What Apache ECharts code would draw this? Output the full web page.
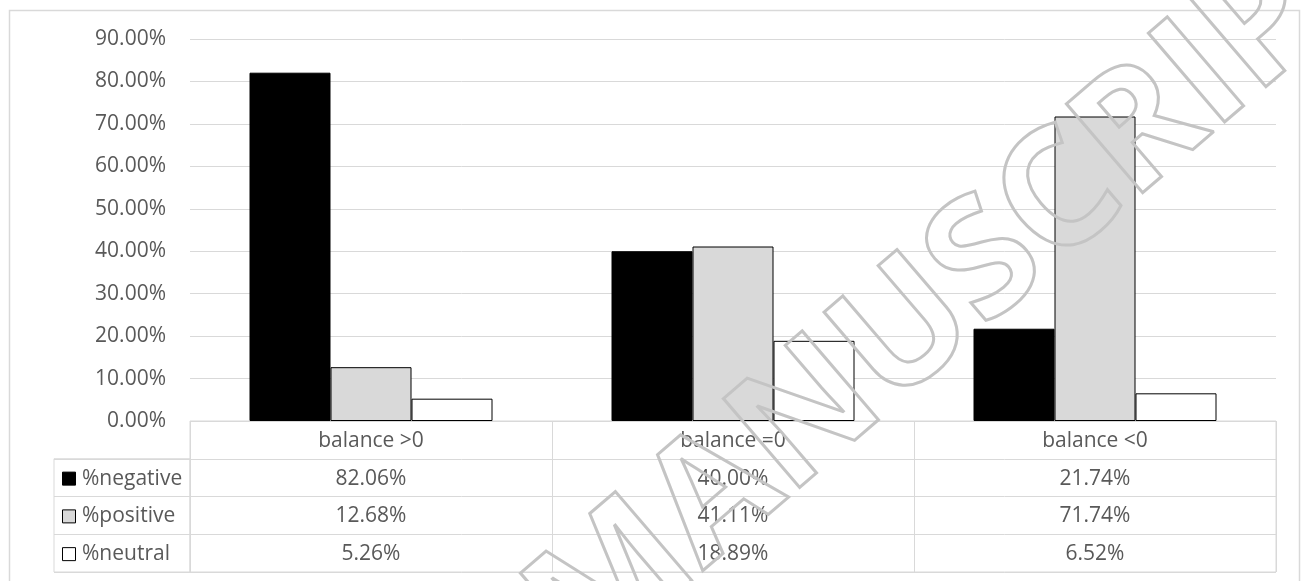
<!DOCTYPE html>
<html>
<head>
<meta charset="utf-8">
<script src="https://cdn.jsdelivr.net/npm/echarts@6/dist/echarts.min.js"></script>
<style>
  html, body { margin: 0; padding: 0; background: #fff; }
  #chart { width: 1306px; height: 581px; }
</style>
</head>
<body>
<div id="chart"></div>
<script>
// data (values also printed in its data table)
const categories = ["balance >0", "balance =0", "balance <0"];
const seriesNames = ["%negative", "%positive", "%neutral"];
const negative = [82.06, 40.0, 21.74];
const positive = [12.68, 41.11, 71.74];
const neutral = [5.26, 18.89, 6.52];
const tableRows = ["header", "%negative", "%positive", "%neutral"];

const values = [negative, positive, neutral];
const fills = ["#000000", "#d9d9d9", "#ffffff"];
const textColor = "#595959";
const lineColor = "#d9d9d9";
const font = '"Open Sans", "Noto Sans", sans-serif';
const fontSize = 21;

// layout of the plot + data table below it
const plotTop = 39, axisY = 421, tableBottom = 572;
const rowH = (tableBottom - axisY) / tableRows.length;

const chart = echarts.init(document.getElementById("chart"));

// cells of the data table: header row + one row per series
const tableCells = [];
for (let r = 0; r < tableRows.length; r++) {
  for (let c = 0; c < categories.length; c++) {
    tableCells.push([c, r]);
  }
}

const option = {
  animation: false,
  backgroundColor: "#fff",
  textStyle: { fontFamily: font },
  grid: [
    { left: 190, right: 30, top: plotTop, bottom: 581 - axisY },
    {
      left: 190, right: 30, top: axisY, height: tableBottom - axisY,
      show: true, borderColor: lineColor, borderWidth: 1
    },
    {
      left: 54, width: 136, top: axisY + rowH, height: rowH * 3,
      show: true, borderColor: lineColor, borderWidth: 1
    }
  ],
  xAxis: [
    {
      gridIndex: 0, type: "category", data: categories,
      axisLine: { show: false }, axisTick: { show: false },
      axisLabel: { show: false }
    },
    {
      gridIndex: 1, type: "category", data: categories,
      axisLine: { show: false }, axisTick: { show: false },
      axisLabel: { show: false, interval: 0 },
      splitLine: { show: true, interval: 0, lineStyle: { color: lineColor, width: 1 } }
    },
    {
      gridIndex: 2, type: "value", min: 0, max: 1, show: false
    }
  ],
  yAxis: [
    {
      gridIndex: 0, type: "value", min: 0, max: 90, interval: 10,
      axisLine: { show: false }, axisTick: { show: false },
      axisLabel: {
        margin: 24, color: textColor, fontSize: fontSize, fontFamily: font,
        formatter: v => v.toFixed(2) + "%"
      },
      splitLine: { lineStyle: { color: lineColor, width: 1 } }
    },
    {
      gridIndex: 1, type: "category", data: tableRows, inverse: true,
      axisLine: { show: false }, axisTick: { show: false },
      axisLabel: { show: false, interval: 0 },
      splitLine: { show: true, interval: 0, lineStyle: { color: lineColor, width: 1 } }
    },
    {
      gridIndex: 2, type: "category", data: seriesNames, inverse: true,
      axisLine: { show: false }, axisTick: { show: false },
      axisLabel: { show: false, interval: 0 },
      splitLine: { show: true, interval: 0, lineStyle: { color: lineColor, width: 1 } }
    }
  ],
  series: [
    ...seriesNames.map((name, i) => ({
      name: name,
      type: "bar",
      xAxisIndex: 0, yAxisIndex: 0,
      barWidth: 81,
      barGap: "0%",
      data: values[i],
      itemStyle: { color: fills[i], borderColor: "#000", borderWidth: 1 }
    })),
    {
      // data table text
      type: "custom",
      xAxisIndex: 1, yAxisIndex: 1,
      data: tableCells,
      renderItem: function (params, api) {
        const c = api.value(0), r = api.value(1);
        const p = api.coord([c, r]);
        const txt = r === 0 ? categories[c] : values[r - 1][c].toFixed(2) + "%";
        return {
          type: "text",
          x: p[0], y: p[1] + 1,
          style: {
            text: txt, align: "center", verticalAlign: "middle",
            fill: textColor, fontSize: fontSize, fontFamily: font
          }
        };
      }
    },
    {
      // legend keys in the left column of the table
      type: "custom",
      xAxisIndex: 2, yAxisIndex: 2,
      data: seriesNames.map((n, i) => [0, i]),
      renderItem: function (params, api) {
        const i = api.value(1);
        const p = api.coord([0, i]);
        return {
          type: "group",
          children: [
            {
              type: "rect",
              shape: { x: p[0] + 8.5, y: p[1] - 5.5, width: 13, height: 13 },
              style: { fill: fills[i], stroke: "#000", lineWidth: 1 }
            },
            {
              type: "text",
              x: p[0] + 28, y: p[1] + 1,
              style: {
                text: seriesNames[i], align: "left", verticalAlign: "middle",
                fill: textColor, fontSize: fontSize, fontFamily: font
              }
            }
          ]
        };
      }
    }
  ],
  graphic: [
    {
      type: "rect",
      shape: { x: 9.5, y: 10.5, width: 1290, height: 600 },
      style: { fill: "none", stroke: lineColor, lineWidth: 1.5 },
      silent: true, z: -1
    },
    {
      // watermark
      type: "text",
      x: 555, y: 636,
      rotation: 0.71,
      style: {
        text: "MANUSCRIPT", fill: "none", stroke: "#c4c4c4", lineWidth: 3,
        fontSize: 164, fontWeight: "bold", fontFamily: font,
        align: "left", verticalAlign: "middle"
      },
      silent: true, z: 100
    }
  ]
};

chart.setOption(option);
</script>
</body>
</html>
